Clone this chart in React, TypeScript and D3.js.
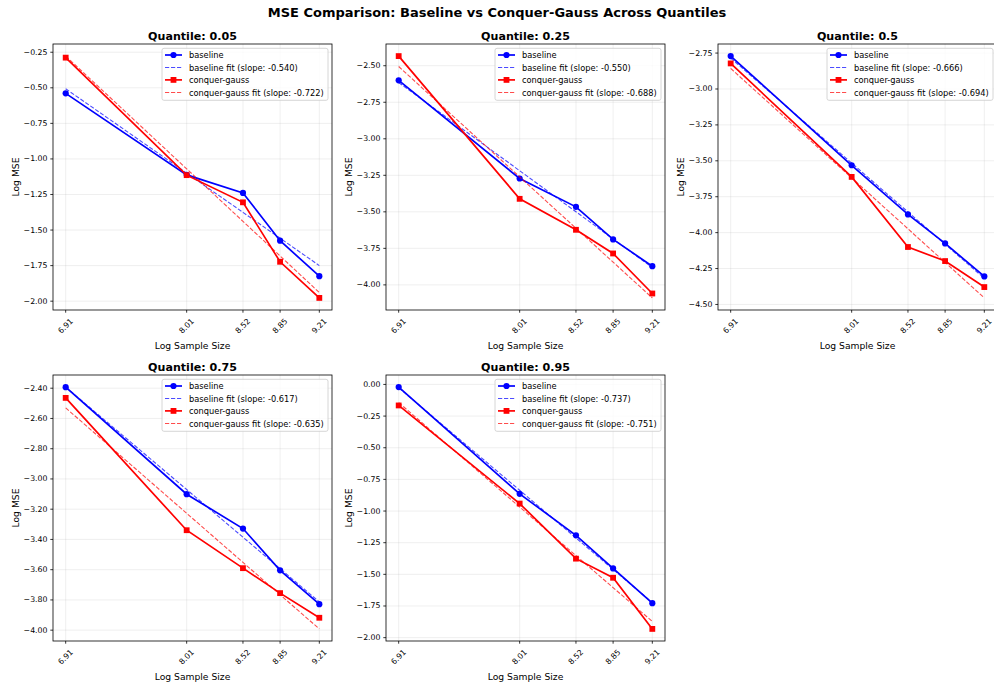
import React from 'react';
import * as d3 from 'd3';

// ---------- data ----------
const logSampleSizes = [6.908, 8.006, 8.517, 8.854, 9.21];
const xTickLabels = ['6.91', '8.01', '8.52', '8.85', '9.21'];
const quantileLabels = ['0.05', '0.25', '0.5', '0.75', '0.95'];

const baselineQ005 = [-0.539, -1.112, -1.239, -1.575, -1.824];
const conquerQ005 = [-0.288, -1.114, -1.305, -1.723, -1.977];
const baselineQ025 = [-2.6, -3.272, -3.466, -3.689, -3.872];
const conquerQ025 = [-2.434, -3.411, -3.623, -3.785, -4.059];
const baselineQ050 = [-2.771, -3.531, -3.873, -4.075, -4.305];
const conquerQ050 = [-2.822, -3.612, -4.1, -4.198, -4.379];
const baselineQ075 = [-2.393, -3.101, -3.328, -3.604, -3.828];
const conquerQ075 = [-2.464, -3.339, -3.59, -3.755, -3.918];
const baselineQ095 = [-0.021, -0.864, -1.192, -1.453, -1.728];
const conquerQ095 = [-0.166, -0.941, -1.376, -1.527, -1.931];

const baselineSlopes = [-0.54, -0.55, -0.666, -0.617, -0.737];
const conquerSlopes = [-0.722, -0.688, -0.694, -0.635, -0.751];

const yTicksQ005 = [-0.25, -0.5, -0.75, -1.0, -1.25, -1.5, -1.75, -2.0];
const yTicksQ025 = [-2.5, -2.75, -3.0, -3.25, -3.5, -3.75, -4.0];
const yTicksQ050 = [-2.75, -3.0, -3.25, -3.5, -3.75, -4.0, -4.25, -4.5];
const yTicksQ075 = [-2.4, -2.6, -2.8, -3.0, -3.2, -3.4, -3.6, -3.8, -4.0];
const yTicksQ095 = [0.0, -0.25, -0.5, -0.75, -1.0, -1.25, -1.5, -1.75, -2.0];

const baselineSeries = [baselineQ005, baselineQ025, baselineQ050, baselineQ075, baselineQ095];
const conquerSeries = [conquerQ005, conquerQ025, conquerQ050, conquerQ075, conquerQ095];
const yTickSets = [yTicksQ005, yTicksQ025, yTicksQ050, yTicksQ075, yTicksQ095];

// ---------- layout ----------
const W = 994;
const H = 685;
const FONT = 'DejaVu Sans, sans-serif';
const colLefts = [53, 386, 718];
const rowTops = [44, 375];
const axW = 279;
const axH = 266;
const BLUE = '#0000ff';
const RED = '#ff0000';

function fitLine(xs: number[], ys: number[], slope: number) {
  const mx = d3.mean(xs) as number;
  const my = d3.mean(ys) as number;
  const b = my - slope * mx;
  return xs.map((x) => slope * x + b);
}

const fmtY = (v: number) => {
  const s = v.toFixed(2);
  return s.startsWith('-') ? '\u2212' + s.slice(1) : s;
};

function Panel({ idx }: { idx: number }) {
  const col = idx % 3;
  const row = Math.floor(idx / 3);
  const left = colLefts[col];
  const top = rowTops[row];
  const right = left + axW;
  const bottom = top + axH;

  const base = baselineSeries[idx];
  const cg = conquerSeries[idx];
  const baseFit = fitLine(logSampleSizes, base, baselineSlopes[idx]);
  const cgFit = fitLine(logSampleSizes, cg, conquerSlopes[idx]);

  const xExt = d3.extent(logSampleSizes) as [number, number];
  const xPad = (xExt[1] - xExt[0]) * 0.05;
  const x = d3.scaleLinear().domain([xExt[0] - xPad, xExt[1] + xPad]).range([left, right]);

  const all = [...base, ...cg, ...baseFit, ...cgFit];
  const yExt = d3.extent(all) as [number, number];
  const yPad = (yExt[1] - yExt[0]) * 0.05;
  const y = d3.scaleLinear().domain([yExt[0] - yPad, yExt[1] + yPad]).range([bottom, top]);

  const line = d3
    .line<number>()
    .x((_, i) => x(logSampleSizes[i]))
    .y((d) => y(d));

  const legendW = 166;
  const lgL = right - 4 - legendW;
  const lgT = top + 4.3;
  const rows = [6.7, 19.2, 31.6, 44.2];
  const legendItems = [
    { label: 'baseline', color: BLUE, kind: 'circle' },
    { label: `baseline fit (slope: ${baselineSlopes[idx].toFixed(3)})`, color: BLUE, kind: 'dash' },
    { label: 'conquer-gauss', color: RED, kind: 'square' },
    { label: `conquer-gauss fit (slope: ${conquerSlopes[idx].toFixed(3)})`, color: RED, kind: 'dash' },
  ];

  const yTicks = yTickSets[idx];

  return (
    <g>
      <rect x={left} y={top} width={axW} height={axH} fill="#fff" />
      {/* grid */}
      {logSampleSizes.map((v, i) => (
        <line key={'gx' + i} x1={x(v)} x2={x(v)} y1={top} y2={bottom} stroke="#b0b0b0" strokeOpacity={0.3} strokeWidth={0.7} />
      ))}
      {yTicks.map((v, i) => (
        <line key={'gy' + i} x1={left} x2={right} y1={y(v)} y2={y(v)} stroke="#b0b0b0" strokeOpacity={0.3} strokeWidth={0.7} />
      ))}
      {/* baseline */}
      <path d={line(base) as string} fill="none" stroke={BLUE} strokeWidth={1.7} />
      {base.map((v, i) => (
        <circle key={'bc' + i} cx={x(logSampleSizes[i])} cy={y(v)} r={3.1} fill={BLUE} />
      ))}
      <path d={line(baseFit) as string} fill="none" stroke={BLUE} strokeOpacity={0.7} strokeWidth={1.1} strokeDasharray="4.2,1.8" />
      {/* conquer-gauss */}
      <path d={line(cg) as string} fill="none" stroke={RED} strokeWidth={1.7} />
      {cg.map((v, i) => (
        <rect key={'cs' + i} x={x(logSampleSizes[i]) - 2.9} y={y(v) - 2.9} width={5.8} height={5.8} fill={RED} />
      ))}
      <path d={line(cgFit) as string} fill="none" stroke={RED} strokeOpacity={0.7} strokeWidth={1.1} strokeDasharray="4.2,1.8" />
      {/* frame */}
      <rect x={left} y={top} width={axW} height={axH} fill="none" stroke="#000" strokeWidth={0.8} />
      {/* x ticks */}
      {logSampleSizes.map((v, i) => (
        <g key={'xt' + i}>
          <line x1={x(v)} x2={x(v)} y1={bottom} y2={bottom + 2.7} stroke="#000" strokeWidth={0.8} />
          <text
            transform={`translate(${x(v)},${bottom + 16}) rotate(-45)`}
            textAnchor="middle"
            dominantBaseline="central"
            fontSize={7.8}
            fontFamily={FONT}
            fill="#000"
          >
            {xTickLabels[i]}
          </text>
        </g>
      ))}
      {/* y ticks */}
      {yTicks.map((v, i) => (
        <g key={'yt' + i}>
          <line x1={left - 2.7} x2={left} y1={y(v)} y2={y(v)} stroke="#000" strokeWidth={0.8} />
          <text x={left - 5.5} y={y(v)} textAnchor="end" dominantBaseline="central" fontSize={7.8} fontFamily={FONT} fill="#000">
            {fmtY(v)}
          </text>
        </g>
      ))}
      {/* labels */}
      <text x={(left + right) / 2} y={bottom + 38.5} textAnchor="middle" fontSize={9.2} fontFamily={FONT} fill="#000">
        Log Sample Size
      </text>
      <text
        transform={`translate(${left - 38},${(top + bottom) / 2}) rotate(-90)`}
        textAnchor="middle"
        dominantBaseline="central"
        fontSize={9.2}
        fontFamily={FONT}
        fill="#000"
      >
        Log MSE
      </text>
      <text x={(left + right) / 2} y={top - 4.5} textAnchor="middle" fontSize={11.1} fontWeight="bold" fontFamily={FONT} fill="#000">
        {`Quantile: ${quantileLabels[idx]}`}
      </text>
      {/* legend */}
      <rect x={lgL} y={lgT} width={legendW} height={52} rx={2} fill="#fff" fillOpacity={0.8} stroke="#cccccc" strokeWidth={0.8} />
      {legendItems.map((it, i) => {
        const cy = lgT + rows[i];
        const hx1 = lgL + 3;
        const hx2 = lgL + 20;
        return (
          <g key={'lg' + i}>
            {it.kind === 'dash' ? (
              <line x1={hx1} x2={hx2} y1={cy} y2={cy} stroke={it.color} strokeOpacity={0.7} strokeWidth={1.1} strokeDasharray="4.2,1.8" />
            ) : (
              <line x1={hx1} x2={hx2} y1={cy} y2={cy} stroke={it.color} strokeWidth={1.7} />
            )}
            {it.kind === 'circle' && <circle cx={(hx1 + hx2) / 2} cy={cy} r={3.1} fill={it.color} />}
            {it.kind === 'square' && (
              <rect x={(hx1 + hx2) / 2 - 2.9} y={cy - 2.9} width={5.8} height={5.8} fill={it.color} />
            )}
            <text x={lgL + 27} y={cy} dominantBaseline="central" fontSize={8.27} fontFamily={FONT} fill="#000">
              {it.label}
            </text>
          </g>
        );
      })}
    </g>
  );
}

export default function App() {
  return (
    <svg
      width={W}
      height={H}
      viewBox={`0 0 ${W} ${H}`}
      style={{ position: 'absolute', left: 0, top: 0, background: '#fff' }}
    >
      <rect width={W} height={H} fill="#fff" />
      <text x={497} y={17} textAnchor="middle" fontSize={13} fontWeight="bold" fontFamily={FONT} fill="#000">
        MSE Comparison: Baseline vs Conquer-Gauss Across Quantiles
      </text>
      {quantileLabels.map((_, i) => (
        <Panel key={i} idx={i} />
      ))}
    </svg>
  );
}
